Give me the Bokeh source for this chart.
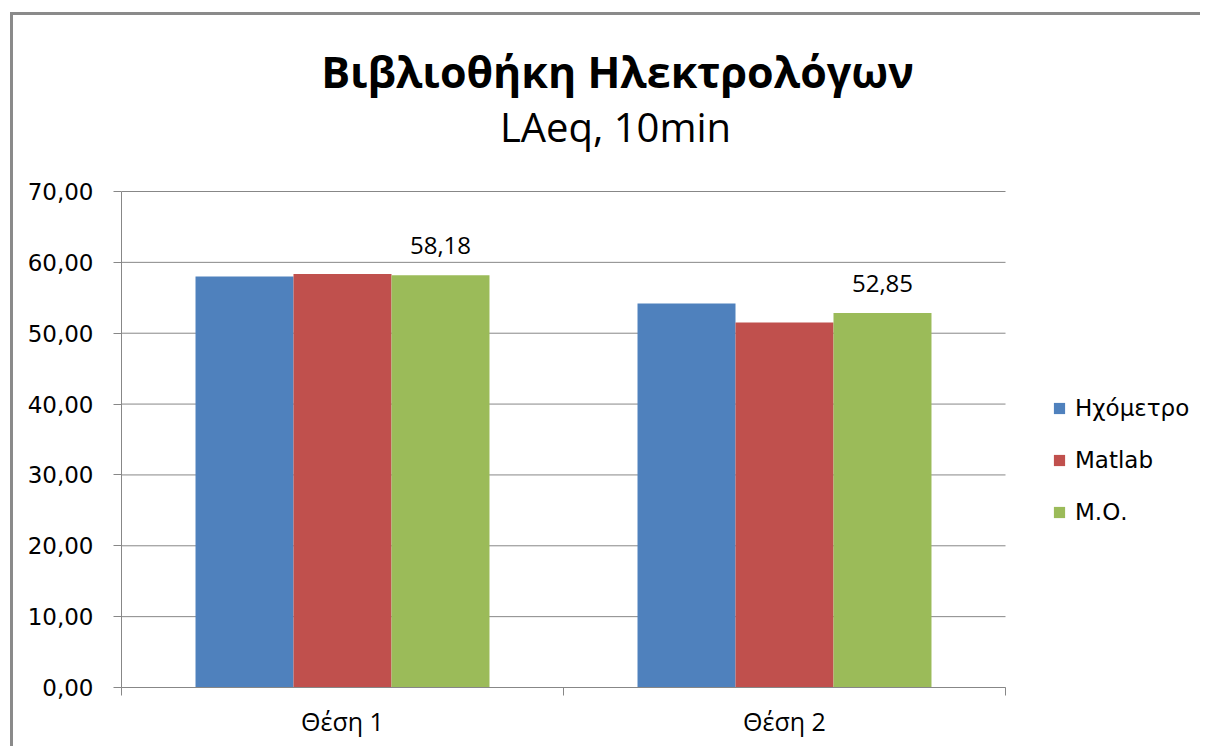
from bokeh.plotting import figure
from bokeh.models import Range1d, FixedTicker, Legend, LegendItem, Label, ColumnDataSource
from bokeh.core.properties import value
from bokeh.embed import file_html
from bokeh.resources import INLINE

# ---- data ----
categories = ["Θέση 1", "Θέση 2"]
series_names = ["Ηχόμετρο", "Matlab", "Μ.Ο."]
hxometro = [58.00, 54.20]
matlab = [58.36, 51.50]
mo = [58.18, 52.85]
y_ticks = [0, 10, 20, 30, 40, 50, 60, 70]
y_tick_labels = ["0,00", "10,00", "20,00", "30,00", "40,00", "50,00", "60,00", "70,00"]
title_text = "Βιβλιοθήκη Ηλεκτρολόγων"
subtitle_text = "LAeq, 10min"

colors = ["#4F81BD", "#C0504D", "#9BBB59"]
series_values = [hxometro, matlab, mo]
grid_col = "#878787"

# layout (pixels)
W, H = 1190, 734
left, bottom = 108, 62
plot_w_px, plot_h_px = 884, 496          # size of the real plotting area
frame_w, frame_h = W - left, H - bottom  # frame extends to hold titles / legend
n = len(categories)
y_max = y_ticks[-1]

p = figure(width=W, height=H, output_backend="svg", toolbar_location=None,
           x_range=Range1d(0, n * frame_w / plot_w_px),
           y_range=Range1d(0, y_max * frame_h / plot_h_px),
           min_border_left=left, min_border_right=0, min_border_top=0,
           min_border_bottom=bottom, outline_line_color=None,
           styles={"border-left": "3px solid #8a8a8a", "border-top": "3px solid #8a8a8a",
                   "margin-left": "10px", "margin-top": "12px"})
p.title = None

# horizontal grid lines, limited to the plotting area
p.segment(x0=[0] * len(y_ticks), x1=[n] * len(y_ticks), y0=y_ticks, y1=y_ticks,
          line_color=grid_col, line_width=1, level="underlay")

centers = [i + 0.5 for i in range(n)]
bw = 0.2217
offsets = [-bw, 0.0, bw]
renderers = []
for name, vals, col, off in zip(series_names, series_values, colors, offsets):
    src = ColumnDataSource(dict(x=[c + off for c in centers], top=vals))
    r = p.vbar(x="x", top="top", width=bw, bottom=0, source=src,
               fill_color=col, line_color=None)
    renderers.append(r)

# data labels on the average series
lab_src = ColumnDataSource(dict(x=[c + offsets[2] for c in centers], y=mo,
                                t=[f"{v:.2f}".replace(".", ",") for v in mo]))
p.text(x="x", y="y", text="t", source=lab_src, text_align="center",
       text_baseline="bottom", y_offset=-21, text_font=value("Open Sans"),
       text_font_size="24px", text_color="#000000")

# axes
p.xaxis.bounds = (0, n)
p.xaxis.ticker = FixedTicker(ticks=centers, minor_ticks=list(range(n + 1)))
p.xaxis.major_label_overrides = {c: cat for c, cat in zip(centers, categories)}
p.xaxis.major_tick_line_color = None
p.xaxis.major_tick_out = 0
p.xaxis.major_tick_in = 0
p.xaxis.minor_tick_out = 8
p.xaxis.minor_tick_in = 0
p.xaxis.minor_tick_line_color = grid_col
p.xaxis.axis_line_color = grid_col
p.xaxis.major_label_standoff = 8
p.xaxis.major_label_text_font = "Open Sans"
p.xaxis.major_label_text_font_size = "25px"
p.xaxis.major_label_text_color = "#000000"

p.yaxis.bounds = (0, y_max)
p.yaxis.ticker = FixedTicker(ticks=y_ticks)
p.yaxis.major_label_overrides = {t: l for t, l in zip(y_ticks, y_tick_labels)}
p.yaxis.major_tick_out = 8
p.yaxis.major_tick_in = 0
p.yaxis.minor_tick_line_color = None
p.yaxis.major_tick_line_color = grid_col
p.yaxis.axis_line_color = grid_col
p.yaxis.major_label_standoff = 20
p.yaxis.major_label_text_font = "DejaVu Sans"
p.yaxis.major_label_text_font_size = "23px"
p.yaxis.major_label_text_color = "#000000"

p.xgrid.grid_line_color = None
p.ygrid.grid_line_color = None

# titles
p.add_layout(Label(x=496, y=616, x_units="screen", y_units="screen", text=title_text,
                   text_align="center", text_baseline="alphabetic", text_font="Open Sans",
                   text_font_style="bold", text_font_size="43px", text_color="#000000"))
p.add_layout(Label(x=494, y=561, x_units="screen", y_units="screen", text=subtitle_text,
                   text_align="center", text_baseline="alphabetic", text_font="Open Sans",
                   text_font_size="40px", text_color="#000000"))

legend = Legend(items=[LegendItem(label=nm, renderers=[r]) for nm, r in zip(series_names, renderers)],
                location=(931, 162), border_line_color=None, background_fill_alpha=0,
                padding=0, margin=0, glyph_width=14, glyph_height=14, label_standoff=9,
                label_height=26, spacing=26, label_text_font="DejaVu Sans",
                label_text_font_size="23px", label_text_color="#000000")
p.add_layout(legend)

open("out.html", "w").write(file_html(p, INLINE))
